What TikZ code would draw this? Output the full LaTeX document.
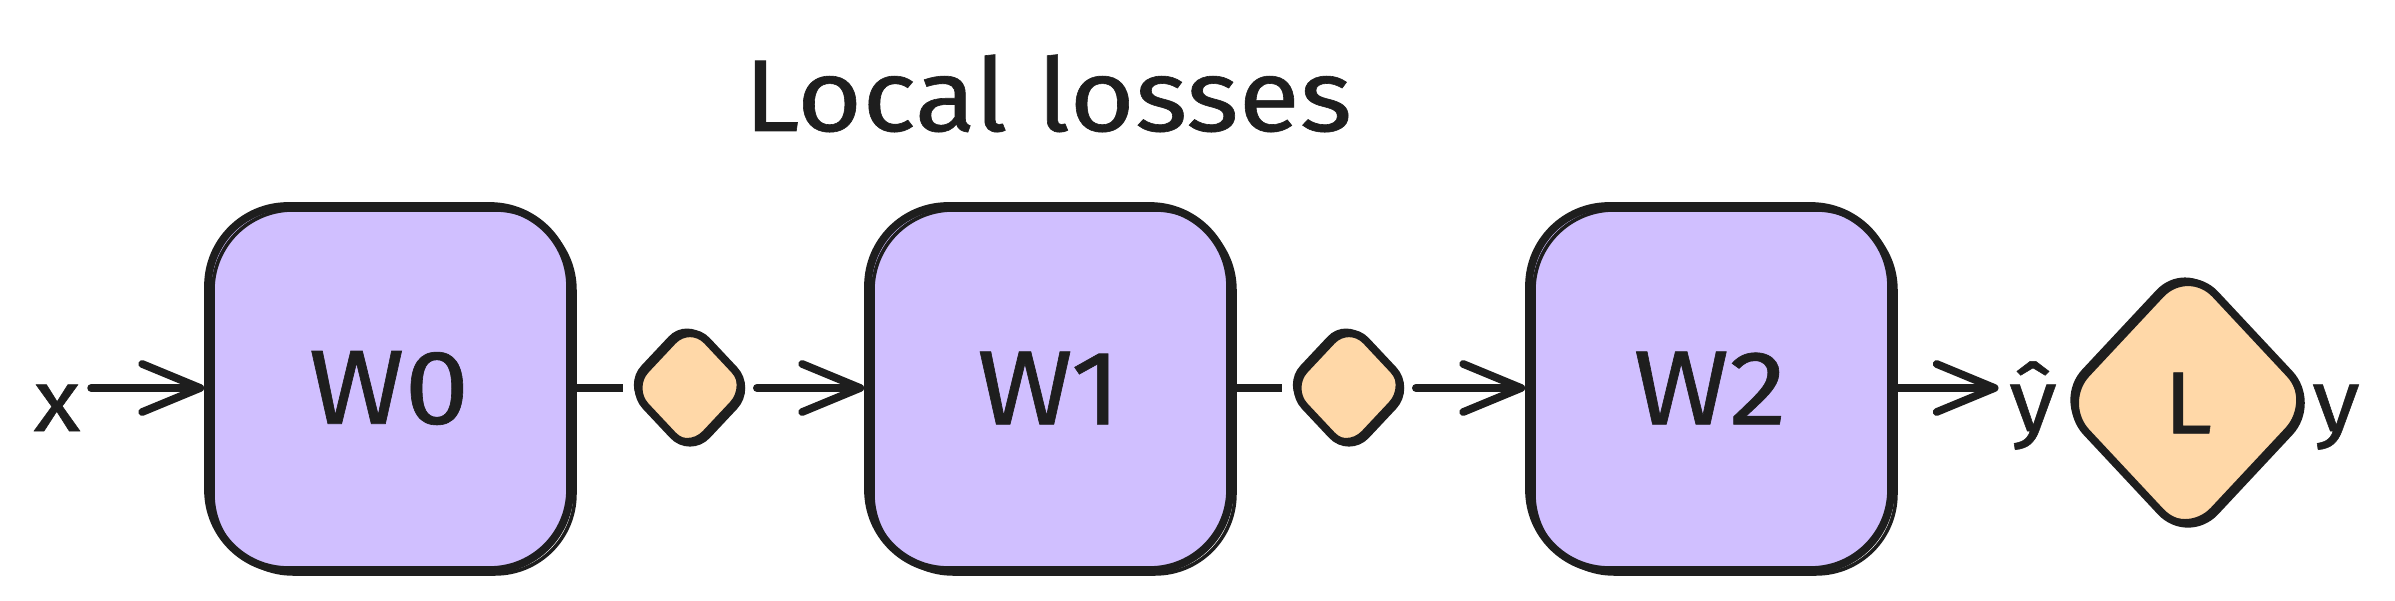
\documentclass[tikz,border=0pt]{standalone}
\usepackage{fontspec}
\setmainfont{Fira Sans}[FakeStretch=1.1, FakeBold=0.6]
\usetikzlibrary{shapes.geometric,arrows.meta}
\definecolor{ink}{HTML}{1E1E1E}
\definecolor{boxfill}{HTML}{D0BFFF}
\definecolor{lossfill}{HTML}{FFD8A8}
\tikzset{
  layer box/.style={
    draw=ink, fill=boxfill, line width=2.2pt, rounded corners=8mm,
    minimum width=3.62cm, minimum height=3.64cm, inner sep=0pt,
    text=ink, font=\fontsize{30}{36}\selectfont,
    postaction={draw=ink, line width=1pt, transform canvas={shift={(0.5mm,-0.4mm)}}}
  },
  loss/.style={
    diamond, draw=ink, fill=lossfill, line width=2.2pt, inner sep=0pt,
    text=ink, font=\fontsize{25}{30}\selectfont,
    postaction={draw=ink, line width=1pt, transform canvas={shift={(-0.3mm,0.3mm)}}}
  },
  var text/.style={
    text=ink, inner sep=1mm, anchor=base, font=\fontsize{25}{30}\selectfont
  },
  flow/.style={
    draw=ink, line width=2.2pt, line cap=round,
    -{Straight Barb[length=5.8mm, width=4.8mm, line width=2.2pt, round]}
  },
  link/.style={draw=ink, line width=2.2pt}
}
\begin{document}
\begin{tikzpicture}
\useasboundingbox (0,0) rectangle (23.95,6);
\node[text=ink, anchor=base, font=\fontsize{29}{35}\selectfont] (title) at (10.48,4.69) {Local losses};
% layers
\node[layer box] (w0) at (3.89,2.12) {W0};
\node[layer box] (w1) at (10.49,2.12) {W1};
\node[layer box] (w2) at (17.10,2.12) {W2};
% local loss points
\node[loss, minimum width=1.26cm, minimum height=1.34cm, rounded corners=2.5mm] (loss0) at (6.90,2.12) {};
\node[loss, minimum width=1.26cm, minimum height=1.34cm, rounded corners=2.5mm] (loss1) at (13.49,2.12) {};
\node[loss, minimum width=2.61cm, minimum height=2.79cm, rounded corners=4mm] (lossL) at (21.88,1.97) {L};
% inputs and outputs
\node[var text] (xin) at (0.57,1.69) {x};
\node[var text] (yhat) at (20.33,1.69) {ŷ};
\node[var text] (ytrue) at (23.36,1.69) {y};
\draw[flow] (xin.east |- w0.west) -- (w0.west);
\draw[link] (w0.east) -- (loss0.west);
\draw[flow] (loss0.east) -- (w1.west);
\draw[link] (w1.east) -- (loss1.west);
\draw[flow] (loss1.east) -- (w2.west);
\draw[flow] (w2.east) -- (yhat.west |- w2.east);
\end{tikzpicture}
\end{document}
